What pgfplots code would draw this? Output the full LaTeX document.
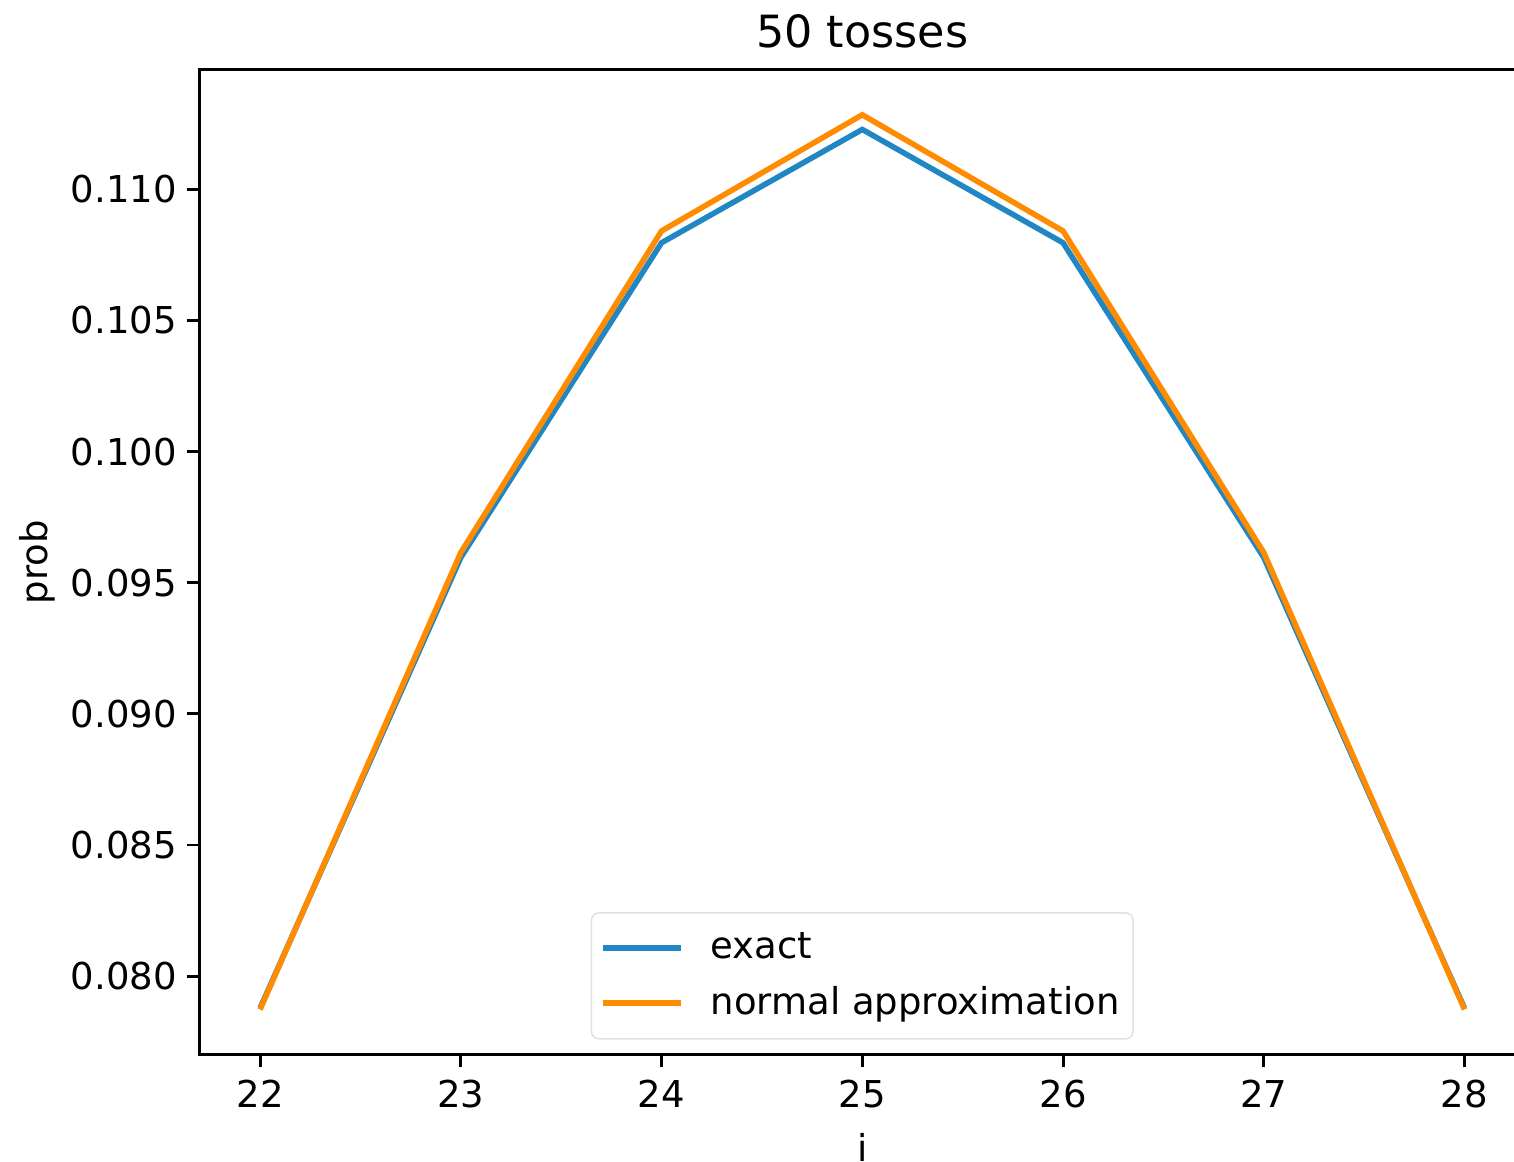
\documentclass[border=0pt]{standalone}
\usepackage{fontspec}
\setmainfont{DejaVu Sans}
\usepackage{pgfplots}
\pgfplotsset{compat=1.18}
\definecolor{exactblue}{RGB}{33,134,196}
\definecolor{normorange}{RGB}{255,140,0}

\begin{document}
\begin{tikzpicture}
\begin{axis}[
    scale only axis,
    width=358pt, height=266pt,
    xmin=21.7, xmax=28.3,
    ymin=0.07702, ymax=0.11455,
    xtick={22,23,...,28},
    ytick={0.080,0.085,0.090,0.095,0.100,0.105,0.110},
    yticklabel style={/pgf/number format/.cd, fixed, fixed zerofill, precision=3, /tikz/.cd, xshift=0.8pt},
    /pgf/number format/assume math mode=true,
    tick label style={font=\fontsize{10}{12}\selectfont},
    label style={font=\fontsize{10}{12}\selectfont},
    ylabel style={yshift=-2.7pt},
    title style={font=\fontsize{12}{14}\selectfont, yshift=-3.6pt},
    title={50 tosses},
    xlabel={i}, ylabel={prob},
    tick align=outside,
    xtick pos=bottom, ytick pos=left,
    major tick length=3.5pt,
    every tick/.style={black, line width=0.8pt},
    axis line style={line width=0.8pt},
    legend style={at={(0.5,0.015)}, anchor=south, draw=black!12, rounded corners=2pt,
        font=\fontsize{10}{12}\selectfont, row sep=2pt, inner xsep=2.5pt, inner ysep=3.2pt,
        nodes={inner xsep=1.2pt}},
    legend cell align=left,
    legend image code/.code={\draw[#1, line width=1.5pt] (0pt,0pt) -- (21pt,0pt);
        \path (27pt,0pt);},
]
\addplot[exactblue, line width=1.5pt] coordinates {
    (22,0.07878) (23,0.09596) (24,0.10796) (25,0.11228) (26,0.10796) (27,0.09596) (28,0.07878)
};
\addlegendentry{exact}
\addplot[normorange, line width=1.5pt] coordinates {
    (22,0.07873) (23,0.09615) (24,0.10841) (25,0.11284) (26,0.10841) (27,0.09615) (28,0.07873)
};
\addlegendentry{normal approximation}
\end{axis}
\pgfresetboundingbox
\path[use as bounding box] ([xshift=-54pt,yshift=-28.9pt]current axis.south west)
    rectangle ([xshift=355.1pt,yshift=18.9pt]current axis.north west);
\end{tikzpicture}
\end{document}
